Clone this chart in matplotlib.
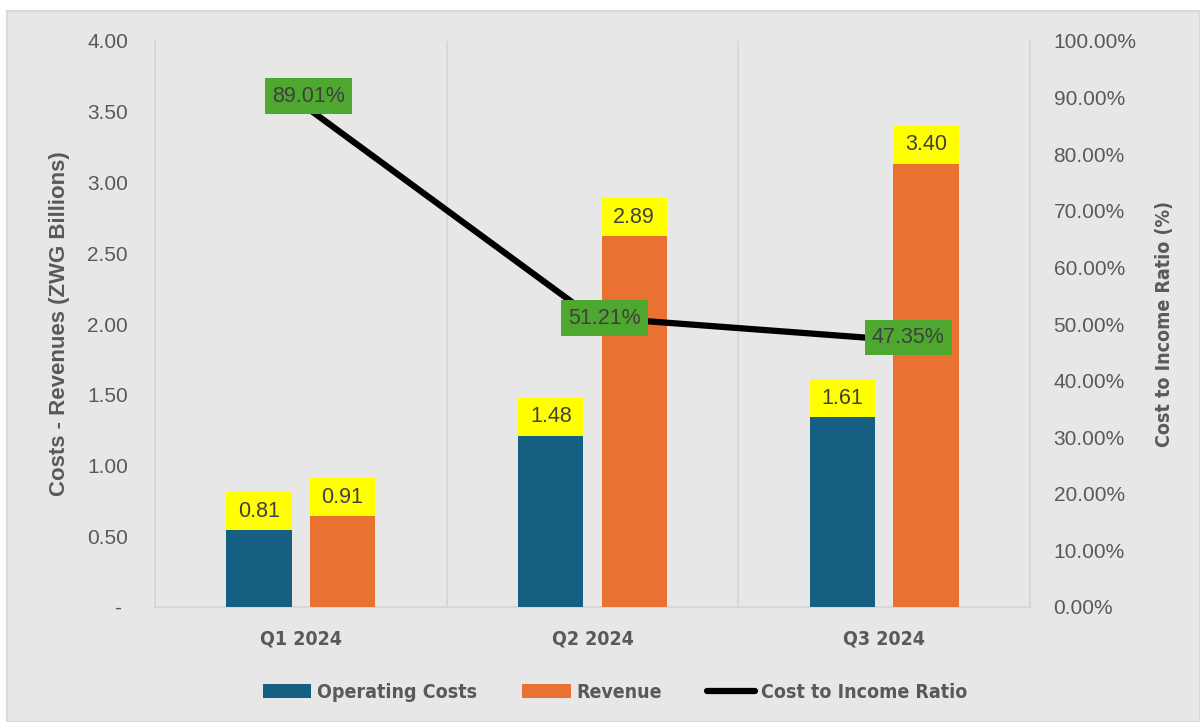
import matplotlib
matplotlib.use("Agg")
import matplotlib.pyplot as plt
from matplotlib.patches import Rectangle, Patch
from matplotlib.lines import Line2D
from matplotlib.ticker import FuncFormatter, MultipleLocator
from matplotlib import font_manager
import numpy as np

# Data
quarters = ["Q1 2024", "Q2 2024", "Q3 2024"]
operating_costs = [0.81, 1.48, 1.61]
revenue = [0.91, 2.89, 3.40]
cost_income_ratio = [89.01, 51.21, 47.35]

# Styles
BLUE = "#156082"
ORANGE = "#E97132"
YELLOW = "#FFFF00"
GREEN = "#4EA72E"
TXT = "#595959"
LBL = "#404040"
BG = "#E7E7E7"
GRID = "#D4D4D4"
REG = ["Liberation Sans", "DejaVu Sans"]

names = {f.name for f in font_manager.fontManager.ttflist}
if "Liberation Sans Narrow" in names:
    NARROW = dict(family="Liberation Sans Narrow")
else:
    NARROW = dict(family="DejaVu Sans", stretch="condensed")

fig = plt.figure(figsize=(12, 7.22), dpi=100, facecolor="white")
fig.patches.append(Rectangle((7 / 1200, 0), 1 - 7 / 1200, 1 - 11 / 722,
                             transform=fig.transFigure, facecolor=BG,
                             edgecolor="#D9D9D9", linewidth=1.5, zorder=-10))

ax = fig.add_axes([155 / 1200, 1 - 607 / 722, 875 / 1200, 566 / 722])
ax.patch.set_alpha(0)

x = np.arange(len(quarters))
width = 0.224
offset = 0.143
label_h = 0.268

ax.bar(x - offset, operating_costs, width, color=BLUE, zorder=3)
ax.bar(x + offset, revenue, width, color=ORANGE, zorder=3)

# Yellow value boxes at the top of each bar
for xs, vals in ((x - offset, operating_costs), (x + offset, revenue)):
    for xi, v in zip(xs, vals):
        ax.bar(xi, label_h, width, bottom=v - label_h, color=YELLOW, zorder=4)
        ax.text(xi, v - label_h / 2, f"{v:.2f}", ha="center", va="center",
                fontsize=15.5, color=LBL, family=REG, zorder=5)

ax.set_xlim(-0.5, 2.5)
ax.set_ylim(0, 4)
ax.yaxis.set_major_locator(MultipleLocator(0.5))
ax.yaxis.set_major_formatter(FuncFormatter(lambda v, p: "- " if abs(v) < 1e-9 else f"{v:.2f}"))
ax.set_xticks(x)
ax.set_xticklabels(quarters, fontsize=14, fontweight="bold", color=TXT, **NARROW)
ax.tick_params(axis="x", length=0, pad=16)
ax.tick_params(axis="y", length=0, pad=19.5, labelsize=15, labelcolor=TXT)
for lab in ax.get_yticklabels():
    lab.set_family(REG)

for xv in (0.5, 1.5):
    ax.axvline(xv, color=GRID, linewidth=1.2, zorder=1)
ax.spines["top"].set_visible(False)
for side in ("left", "right", "bottom"):
    ax.spines[side].set_color(GRID)
    ax.spines[side].set_linewidth(1.2)

ax.set_ylabel("Costs - Revenues (ZWG Billions)", fontsize=16, fontweight="bold",
              color=TXT, labelpad=12, family=REG)

ax2 = ax.twinx()
ax2.set_ylim(0, 100)
ax2.yaxis.set_major_locator(MultipleLocator(10))
ax2.yaxis.set_major_formatter(FuncFormatter(lambda v, p: f"{v:.2f}%"))
ax2.tick_params(axis="y", length=0, pad=17, labelsize=15, labelcolor=TXT)
for lab in ax2.get_yticklabels():
    lab.set_family(REG)
for side in ax2.spines:
    ax2.spines[side].set_visible(False)
ax2.set_ylabel("Cost to Income Ratio (%)", fontsize=14, fontweight="bold",
               color=TXT, labelpad=13, **NARROW)

ax2.plot(x, cost_income_ratio, color="black", linewidth=4.5,
         solid_capstyle="round", zorder=6)
label_dx = [0.027, 0.04, 0.082]
label_dy = [1.27, -0.15, 0.2]
for xi, v, dx, dy in zip(x, cost_income_ratio, label_dx, label_dy):
    ax2.text(xi + dx, v + dy, f"{v:.2f}%", ha="center", va="center",
             fontsize=15.5, color=LBL, family=REG, zorder=7,
             bbox=dict(boxstyle="square,pad=0.33", facecolor=GREEN, edgecolor="none"))

handles = [Patch(facecolor=BLUE, label="Operating Costs"),
           Patch(facecolor=ORANGE, label="Revenue"),
           Line2D([0], [0], color="black", linewidth=4.5, solid_capstyle="round",
                  label="Cost to Income Ratio")]
leg_prop = dict(size=14, weight="bold", **NARROW)
leg = fig.legend(handles=handles, loc="center", bbox_to_anchor=(615 / 1200, 1 - 692 / 722),
                 ncol=3, frameon=False, handlelength=2.5, handleheight=0.72,
                 handletextpad=0.3, columnspacing=2.3, prop=leg_prop)
for t in leg.get_texts():
    t.set_color(TXT)

fig.savefig("out.png", dpi=100, facecolor=fig.get_facecolor())
